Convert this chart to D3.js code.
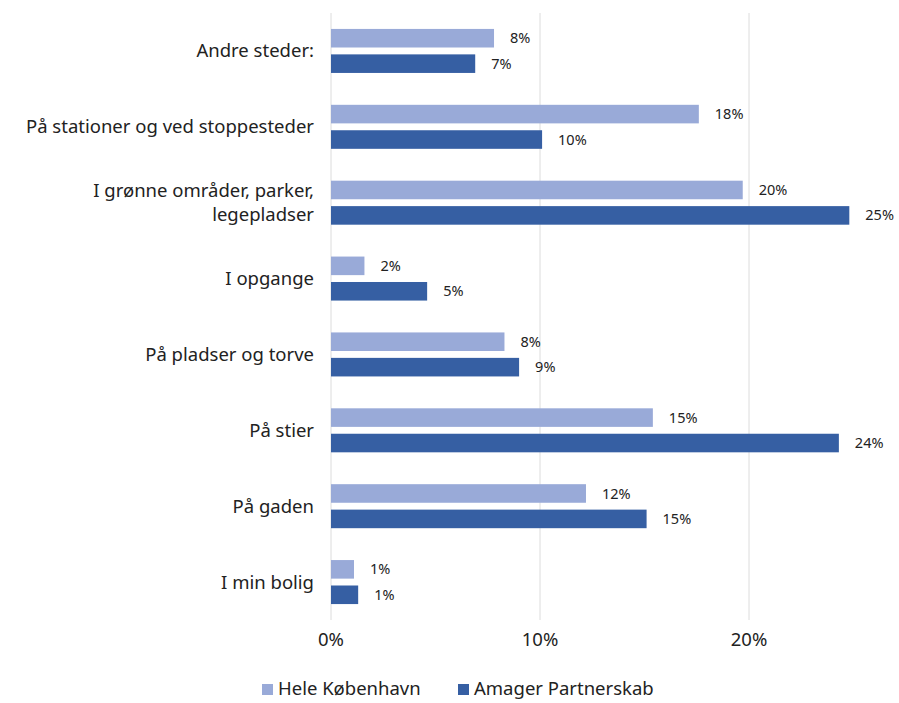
<!DOCTYPE html>
<html><head><meta charset="utf-8">
<script src="https://cdn.jsdelivr.net/npm/d3@7"></script>
<style>body{margin:0;background:#fff;} text{font-family:"Noto Sans",Lato,sans-serif;fill:#222;}</style>
</head><body>
<svg id="c" width="899" height="703"></svg>
<script>
const categories = ["Andre steder:", "På stationer og ved stoppesteder", "I grønne områder, parker,\nlegepladser", "I opgange", "På pladser og torve", "På stier", "På gaden", "I min bolig"];
const series = ["Hele København", "Amager Partnerskab"];
const heleKbh = [7.8, 17.6, 19.7, 1.6, 8.3, 15.4, 12.2, 1.1];
const amager = [6.9, 10.1, 24.8, 4.6, 9.0, 24.3, 15.1, 1.3];
const ticks = [0, 10, 20];
const colors = ["#99aad8", "#365fa3"];

const svg = d3.select("#c");
const x = d3.scaleLinear().domain([0, 10]).range([331, 540]);
const y = d3.scaleBand().domain(categories).range([13, 620]).paddingInner(0.42).paddingOuter(0.21);
const yi = d3.scaleBand().domain(series).range([0, y.bandwidth()]).paddingInner(0.27);

// gridlines
svg.append("g").selectAll("line").data(ticks).join("line")
  .attr("x1", d => x(d)).attr("x2", d => x(d)).attr("y1", 13).attr("y2", 620)
  .attr("stroke", "#dcdcdc").attr("stroke-width", 1);

// x axis tick labels
svg.append("g").selectAll("text").data(ticks).join("text")
  .attr("x", d => x(d)).attr("y", 640).attr("dy", "0.35em").attr("text-anchor", "middle")
  .attr("font-size", 18.5).text(d => d + "%");

const data = [heleKbh, amager];
data.forEach((vals, si) => {
  const g = svg.append("g");
  g.selectAll("rect").data(vals).join("rect")
    .attr("x", x(0)).attr("y", (d, i) => y(categories[i]) + yi(series[si]))
    .attr("width", d => x(d) - x(0)).attr("height", yi.bandwidth())
    .attr("fill", colors[si]);
  g.selectAll("text").data(vals).join("text")
    .attr("x", d => x(d) + 16).attr("y", (d, i) => y(categories[i]) + yi(series[si]) + yi.bandwidth() / 2)
    .attr("dy", "0.35em").attr("font-size", 14.5).text(d => Math.round(d) + "%");
});

// category labels
categories.forEach(c => {
  const lines = c.split("\n");
  const cy = y(c) + y.bandwidth() / 2;
  const t = svg.append("text").attr("x", 314).attr("text-anchor", "end").attr("font-size", 18.5);
  lines.forEach((l, i) => {
    t.append("tspan").attr("x", 314).attr("y", cy + (i - (lines.length - 1) / 2) * 24).attr("dy", "0.35em").text(l);
  });
});

// legend
const leg = [{x: 262, s: series[0], c: colors[0]}, {x: 458, s: series[1], c: colors[1]}];
leg.forEach(l => {
  svg.append("rect").attr("x", l.x).attr("y", 684).attr("width", 11).attr("height", 11).attr("fill", l.c);
  svg.append("text").attr("x", l.x + 16).attr("y", 689).attr("dy", "0.35em").attr("font-size", 18.5).text(l.s);
});
</script>
</body></html>
